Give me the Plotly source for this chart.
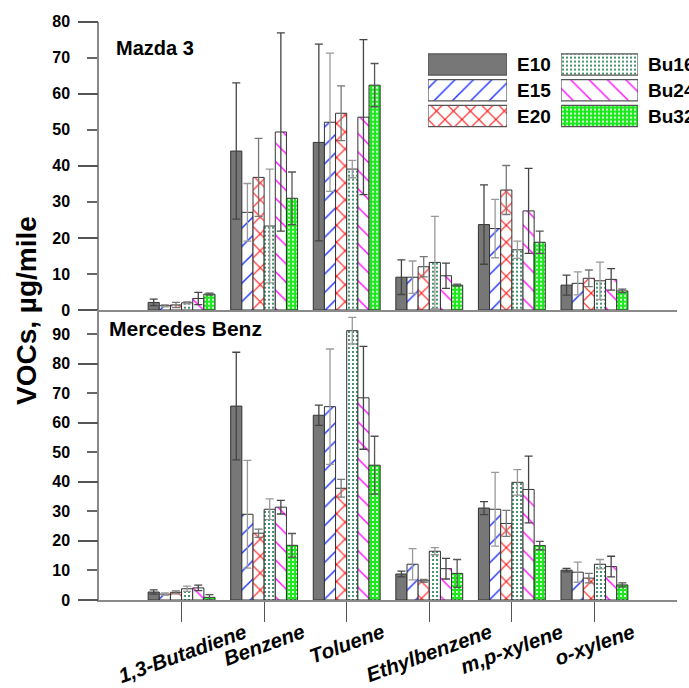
import plotly.graph_objects as go

# ---------------- data ----------------
categories = ["1,3-Butadiene", "Benzene", "Toluene", "Ethylbenzene", "m,p-xylene", "o-xylene"]
fuels = ["E10", "E15", "E20", "Bu16", "Bu24", "Bu32"]

mazda_E10 = [2.1, 44.1, 46.5, 9.1, 23.7, 6.9]
mazda_E15 = [1.2, 27.1, 52.1, 9.1, 22.6, 7.4]
mazda_E20 = [1.4, 36.8, 54.6, 12.0, 33.3, 8.8]
mazda_Bu16 = [2.0, 23.3, 39.1, 13.2, 16.7, 8.1]
mazda_Bu24 = [3.2, 49.4, 53.5, 9.5, 27.5, 8.5]
mazda_Bu32 = [4.4, 31.0, 62.4, 6.9, 18.8, 5.3]

mazda_E10_err = [0.9, 18.9, 27.3, 4.8, 11.0, 2.8]
mazda_E15_err = [0.3, 8.0, 19.2, 4.5, 8.1, 3.2]
mazda_E20_err = [0.7, 10.8, 7.6, 2.8, 6.8, 2.3]
mazda_Bu16_err = [0.3, 15.8, 2.4, 12.8, 2.4, 5.2]
mazda_Bu24_err = [1.7, 27.5, 21.5, 3.5, 11.8, 3.0]
mazda_Bu32_err = [0.3, 7.3, 6.0, 0.3, 3.1, 0.5]

merc_E10 = [2.7, 65.6, 62.5, 8.8, 31.1, 10.1]
merc_E15 = [2.0, 29.0, 65.4, 12.1, 30.7, 9.4]
merc_E20 = [2.6, 22.6, 37.8, 6.5, 25.9, 7.4]
merc_Bu16 = [3.8, 30.7, 91.1, 16.5, 39.8, 12.1]
merc_Bu24 = [4.1, 31.4, 68.4, 10.6, 37.4, 11.3]
merc_Bu32 = [0.9, 18.5, 45.6, 9.0, 18.4, 5.1]

merc_E10_err = [0.7, 18.2, 3.4, 1.0, 2.2, 0.6]
merc_E15_err = [0.4, 18.2, 19.5, 5.3, 12.5, 3.4]
merc_E20_err = [0.5, 1.4, 3.0, 0.5, 4.4, 1.6]
merc_Bu16_err = [0.9, 3.5, 4.5, 1.2, 4.3, 1.6]
merc_Bu24_err = [0.9, 2.3, 17.4, 3.5, 11.3, 3.5]
merc_Bu32_err = [0.9, 4.0, 9.8, 4.7, 1.4, 0.7]

top_ticks = [0, 10, 20, 30, 40, 50, 60, 70, 80]
bottom_ticks = [0, 10, 20, 30, 40, 50, 60, 70, 80, 90]
long_ticks = [0, 20, 40, 60, 80]

mazda = {"E10": (mazda_E10, mazda_E10_err), "E15": (mazda_E15, mazda_E15_err),
         "E20": (mazda_E20, mazda_E20_err), "Bu16": (mazda_Bu16, mazda_Bu16_err),
         "Bu24": (mazda_Bu24, mazda_Bu24_err), "Bu32": (mazda_Bu32, mazda_Bu32_err)}
merc = {"E10": (merc_E10, merc_E10_err), "E15": (merc_E15, merc_E15_err),
        "E20": (merc_E20, merc_E20_err), "Bu16": (merc_Bu16, merc_Bu16_err),
        "Bu24": (merc_Bu24, merc_Bu24_err), "Bu32": (merc_Bu32, merc_Bu32_err)}

# ---------------- styles ----------------
styles = {
    "E10": dict(color="#777777", pattern=dict(shape="")),
    "E15": dict(color="#1f33ff", pattern=dict(shape="/", fgcolor="#1f33ff", bgcolor="white",
                                               size=13, solidity=0.11, fgopacity=1)),
    "E20": dict(color="#ff0d0d", pattern=dict(shape="x", fgcolor="#ff0d0d", bgcolor="white",
                                               size=12, solidity=0.17, fgopacity=1)),
    "Bu16": dict(color="#1a7a4c", pattern=dict(shape=".", fgcolor="#1a7a4c", bgcolor="white",
                                                size=4, solidity=0.22, fgopacity=1)),
    "Bu24": dict(color="#ff10ff", pattern=dict(shape="\\", fgcolor="#ff10ff", bgcolor="white",
                                                size=13, solidity=0.11, fgopacity=1)),
    "Bu32": dict(color="white", pattern=dict(shape=".", fgcolor="white", bgcolor="#1ee81e",
                                              size=4, solidity=0.22, fgopacity=1)),
}
err_colors = {"E10": "#444444", "E15": "#9a9a9a", "E20": "#777777",
              "Bu16": "#999999", "Bu24": "#444444", "Bu32": "#555555"}

W, H = 689, 688
FONT = "Liberation Sans, Arial, sans-serif"

def px_x(p):
    return p / W

def px_y(p):
    return 1 - p / H

fig = go.Figure()

for panel, data, xa, ya in [("top", mazda, "x", "y"), ("bottom", merc, "x2", "y2")]:
    for f in fuels:
        vals, errs = data[f]
        st = styles[f]
        fig.add_trace(go.Bar(
            x=categories, y=vals, name=f, xaxis=xa, yaxis=ya, showlegend=False,
            marker=dict(color=st["color"], pattern=st["pattern"],
                        line=dict(color="#333333", width=1)),
            error_y=dict(type="data", array=errs, symmetric=True,
                         color=err_colors[f], thickness=1.3, width=4),
        ))

# dummy traces so overlay axes get drawn
fig.add_trace(go.Scatter(x=[], y=[], xaxis="x", yaxis="y3", showlegend=False))
fig.add_trace(go.Scatter(x=[], y=[], xaxis="x2", yaxis="y4", showlegend=False))

# legend swatches (two columns on their own small axes)
for col, (xa, ya) in enumerate([("x5", "y5"), ("x6", "y6")]):
    for row in range(3):
        f = fuels[col * 3 + row]
        st = styles[f]
        fig.add_trace(go.Bar(
            x=[1], y=[row], base=0, orientation="h", xaxis=xa, yaxis=ya,
            width=0.82, offset=-0.41, showlegend=False, hoverinfo="skip",
            marker=dict(color=st["color"], pattern=st["pattern"],
                        line=dict(color="#555555", width=1.2)),
        ))
        fig.add_annotation(
            xref=f"{xa} domain", yref=ya, x=1, y=row, xanchor="left", yanchor="middle",
            xshift=8, text=f, showarrow=False,
            font=dict(family=FONT, size=19, color="black", weight="bold"))

xdom = [px_x(99), px_x(677)]
top_dom = [px_y(310), px_y(21.7)]
bot_dom = [px_y(600), px_y(310)]
tickfont = dict(family=FONT, size=16, color="black", weight="bold")
axline = dict(showline=True, linecolor="#8a8a8a", linewidth=1.5, zeroline=False, showgrid=False)

yax_common = dict(ticks="outside", ticklen=10, tickwidth=1.5, tickcolor="#666666",
                  tickfont=tickfont, ticklabelstandoff=14, tickmode="array", **axline)
overlay_common = dict(ticks="outside", ticklen=20, tickwidth=1.5, tickcolor="#555555",
                      showticklabels=False, tickmode="array", tickvals=long_ticks,
                      showline=False, zeroline=False, showgrid=False)

fig.update_layout(
    width=W, height=H,
    margin=dict(l=0, r=0, t=0, b=0, autoexpand=False),
    paper_bgcolor="white", plot_bgcolor="rgba(0,0,0,0)",
    barmode="group", bargap=0.19, bargroupgap=0,
    font=dict(family=FONT),
    xaxis=dict(domain=xdom, anchor="y", type="category", categoryarray=categories,
               range=[-1, 6], ticks="", showticklabels=False, **axline),
    yaxis=dict(domain=top_dom, anchor="x", range=[0, 80], tickvals=top_ticks, **yax_common),
    yaxis3=dict(overlaying="y", anchor="x", side="left", range=[0, 80], **overlay_common),
    xaxis2=dict(domain=xdom, anchor="y2", type="category", categoryarray=categories,
                range=[-1, 6], ticks="outside", ticklen=20, tickwidth=1.3, tickcolor="#555555",
                showticklabels=False, **axline),
    yaxis2=dict(domain=bot_dom, anchor="x2", range=[0, 98.1], tickvals=bottom_ticks, **yax_common),
    yaxis4=dict(overlaying="y2", anchor="x2", side="left", range=[0, 98.1], **overlay_common),
    xaxis5=dict(domain=[px_x(428), px_x(507)], anchor="y5", range=[0, 1], visible=False),
    yaxis5=dict(domain=[px_y(128.9), px_y(51.6)], anchor="x5", range=[2.5, -0.5], visible=False),
    xaxis6=dict(domain=[px_x(561), px_x(638)], anchor="y6", range=[0, 1], visible=False),
    yaxis6=dict(domain=[px_y(128.9), px_y(51.6)], anchor="x6", range=[2.5, -0.5], visible=False),
)

# panel titles
fig.add_annotation(xref="paper", yref="paper", x=px_x(114), y=px_y(48), xanchor="left",
                   yanchor="middle", text="Mazda 3", showarrow=False,
                   font=dict(family=FONT, size=20, color="black", weight="bold"))
fig.add_annotation(xref="paper", yref="paper", x=px_x(107), y=px_y(328), xanchor="left",
                   yanchor="middle", text="Mercedes Benz", showarrow=False,
                   font=dict(family=FONT, size=21, color="black", weight="bold"))

# y axis title
fig.add_annotation(xref="paper", yref="paper", x=px_x(26), y=px_y(311), xanchor="center",
                   yanchor="middle", text="VOCs, µg/mile", textangle=-90, showarrow=False,
                   font=dict(family=FONT, size=28, color="black", weight="bold"))

# rotated category labels
for c in categories:
    fig.add_annotation(xref="x2", yref="paper", x=c, y=px_y(617), xanchor="center",
                       yanchor="top", text=c, textangle=-20, showarrow=False,
                       font=dict(family=FONT, size=20.5, color="black", weight="bold",
                                 style="italic"))

fig.write_html("out.html")
